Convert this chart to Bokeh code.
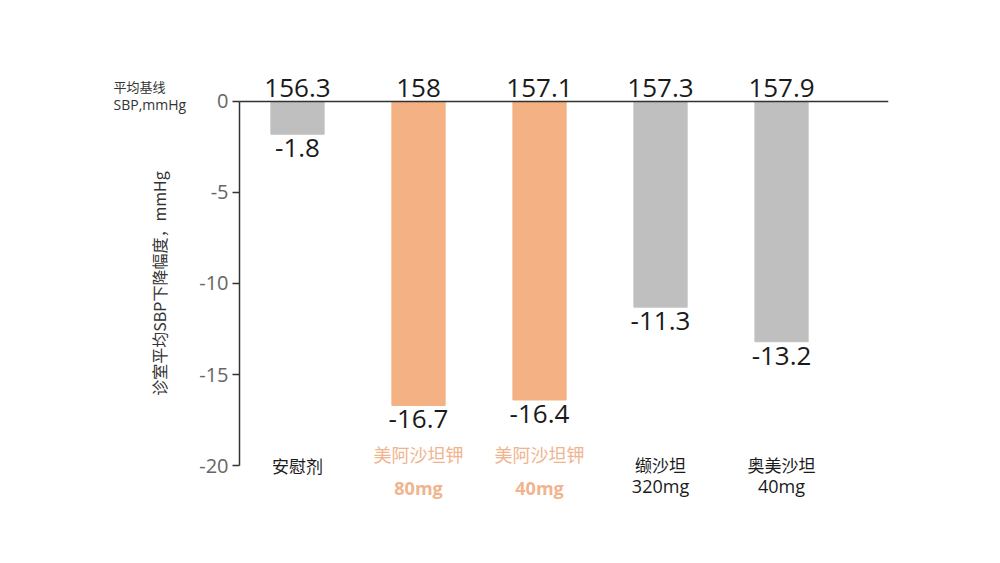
from bokeh.plotting import figure
from bokeh.models import Range1d, FixedTicker, ColumnDataSource
from bokeh.core.properties import value
from bokeh.embed import file_html
from bokeh.resources import INLINE

# ---- data ----
names_line1 = ["安慰剂", "美阿沙坦钾", "美阿沙坦钾", "缬沙坦", "奥美沙坦"]
names_line2 = ["", "80mg", "40mg", "320mg", "40mg"]
baseline_sbp = [156.3, 158, 157.1, 157.3, 157.9]
sbp_change = [-1.8, -16.7, -16.4, -11.3, -13.2]
y_ticks = [0, -5, -10, -15, -20]
highlight = [False, True, True, False, False]
header_lines = ["平均基线", "SBP,mmHg"]

# ---- styles ----
GREY = "#BFBFBF"
ORANGE = "#F4B183"
ORANGE_TXT = "#F0B48E"
NUM_FONT = "Open Sans"
CJK_FONT = "Noto Sans CJK SC"

xs = list(range(len(sbp_change)))
bar_colors = [ORANGE if h else GREY for h in highlight]

X_START, X_END = -1.628, 4.884
AXIS_X = -0.479

p = figure(width=984, height=547, output_backend="svg", toolbar_location=None,
           x_range=Range1d(X_START, X_END), y_range=Range1d(-23.02, 2.47),
           min_border_left=100, min_border_right=96, min_border_top=56, min_border_bottom=27)
p.outline_line_color = None
p.xgrid.visible = False
p.ygrid.visible = False
p.xaxis.visible = False
p.background_fill_color = "white"

src = ColumnDataSource(dict(x=xs, top=[0] * len(xs), bottom=sbp_change, color=bar_colors,
                            base=[str(b) for b in baseline_sbp],
                            chg=[str(c) for c in sbp_change]))
p.vbar(x="x", top="top", bottom="bottom", width=0.44, color="color", source=src)

# zero line from the y axis to the right edge
p.segment(x0=[AXIS_X], y0=[0], x1=[X_END], y1=[0], line_color="#333333", line_width=1.5)

# y axis
yax = p.yaxis[0]
yax.fixed_location = AXIS_X
yax.ticker = FixedTicker(ticks=y_ticks)
yax.major_label_overrides = {t: str(t) for t in y_ticks}
yax.bounds = (min(y_ticks), max(y_ticks))
yax.minor_tick_line_color = None
yax.major_tick_in = 0
yax.major_tick_out = 7
yax.axis_line_color = "#333333"
yax.axis_line_width = 1.5
yax.major_tick_line_color = "#333333"
yax.major_tick_line_width = 1.5
yax.major_label_text_font = NUM_FONT
yax.major_label_text_font_size = "20px"
yax.major_label_text_color = "#666666"
yax.major_label_standoff = 4
yax.axis_label = "诊室平均SBP下降幅度，mmHg"
yax.axis_label_text_font = CJK_FONT
yax.axis_label_text_font_style = "normal"
yax.axis_label_text_font_size = "16px"
yax.axis_label_text_color = "#333333"
yax.axis_label_standoff = 25

# baseline values above
p.text(x="x", y="top", text="base", source=src, text_align="center", text_baseline="bottom",
       y_offset=-4, text_font=value(NUM_FONT), text_font_size="26px", text_color="#1a1a1a")
# change values below bars
p.text(x="x", y="bottom", text="chg", source=src, text_align="center", text_baseline="top",
       y_offset=5, text_font=value(NUM_FONT), text_font_size="26px", text_color="#1a1a1a")

# category labels
ymin = min(y_ticks)
for i in xs:
    if names_line2[i] == "":
        p.text(x=[i], y=[ymin], text=[names_line1[i]], text_align="center", text_baseline="middle",
               text_font=value(CJK_FONT), text_font_size="17px", text_color="#1a1a1a")
    elif highlight[i]:
        p.text(x=[i], y=[ymin], text=[names_line1[i]], text_align="center", text_baseline="middle",
               y_offset=-12, text_font=value(CJK_FONT), text_font_size="18px", text_color=ORANGE_TXT)
        p.text(x=[i], y=[ymin], text=[names_line2[i]], text_align="center", text_baseline="middle",
               y_offset=22, text_font=value(NUM_FONT), text_font_size="18px", text_font_style="bold",
               text_color=ORANGE_TXT)
    else:
        p.text(x=[i], y=[ymin], text=[names_line1[i]], text_align="center", text_baseline="middle",
               y_offset=-1, text_font=value(CJK_FONT), text_font_size="17px", text_color="#1a1a1a")
        p.text(x=[i], y=[ymin], text=[names_line2[i]], text_align="center", text_baseline="middle",
               y_offset=20, text_font=value(NUM_FONT), text_font_size="18px", text_color="#1a1a1a")

# baseline header at top-left, beside the zero tick
p.text(x=[AXIS_X], y=[0], text=[header_lines[0]], x_offset=-126, y_offset=-15,
       text_baseline="middle", text_font=value(CJK_FONT), text_font_size="13px", text_color="#333333")
p.text(x=[AXIS_X], y=[0], text=[header_lines[1]], x_offset=-126, y_offset=3,
       text_baseline="middle", text_font=value(NUM_FONT), text_font_size="14px", text_color="#333333")

open("out.html", "w").write(file_html(p, INLINE))
